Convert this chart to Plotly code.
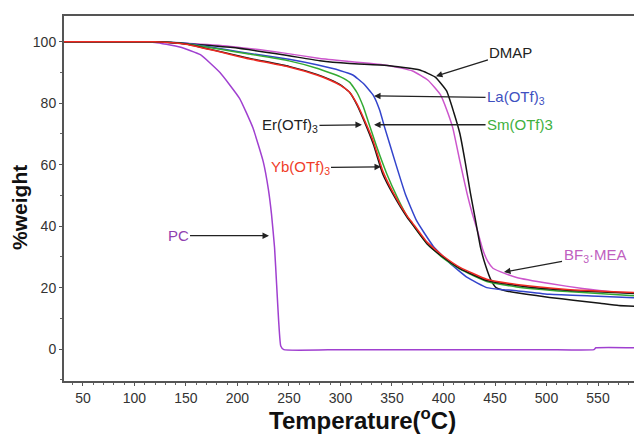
import plotly.graph_objects as go

# ---------------- data ----------------
T_pc = [31, 100, 120, 131, 145, 164, 183, 202, 215, 225, 230, 233, 236, 238, 240, 242, 245, 300, 400, 500, 546, 548, 593]
W_pc = [100, 100, 99.8, 99.2, 98.2, 95.8, 90, 81.6, 72, 61, 52, 44, 33, 21, 9, 1, -0.2, -0.2, -0.2, -0.2, -0.2, 0.4, 0.4]

T_dmap = [31, 120, 150, 193, 244, 280, 309, 345, 377, 392, 403, 410, 416, 421, 426, 431, 436, 441, 446, 451, 460, 471, 490, 503, 526, 552, 570, 593]
W_dmap = [100, 100, 99.4, 98.2, 95.8, 93.8, 92.9, 92.3, 90.8, 88.5, 84, 77, 70, 61, 51, 42, 33, 27, 22.5, 20, 19, 18.3, 17.4, 16.8, 15.9, 14.9, 14.2, 13.8]

T_bf3 = [31, 120, 150, 193, 244, 280, 309, 345, 370, 385, 397, 403, 409, 416, 423, 428, 433, 438, 443, 448, 455, 471, 503, 535, 565, 593]
W_bf3 = [100, 100, 99.5, 98.5, 96.4, 94.6, 93.6, 92.4, 90.5, 87.5, 82.8, 78, 72, 61, 50.4, 44, 38.5, 32.5, 28.5, 26.3, 25.2, 23.3, 21.3, 19.7, 18.6, 18.1]

T_la = [31, 120, 150, 212, 250, 277, 300, 312, 322, 332, 338, 343, 353, 363, 374, 390, 406, 423, 442, 455, 471, 503, 550, 593]
W_la = [100, 100, 99.5, 96.2, 94.3, 92.5, 90.6, 89.2, 86.5, 82.5, 77.8, 72, 61, 50.4, 41.7, 33.5, 28, 23.3, 20, 19.4, 19, 17.8, 17.2, 16.6]

T_sm = [31, 120, 150, 212, 250, 277, 300, 309, 316, 322, 327, 335, 345, 355, 365, 384, 400, 416, 442, 471, 520, 593]
W_sm = [100, 100, 99.4, 96, 93.8, 91.4, 88.6, 86.8, 83.5, 79, 74, 66, 57, 49.5, 43, 34.3, 29.5, 26, 22, 20.2, 18.7, 17.2]

T_er = [31, 120, 150, 212, 250, 277, 290, 300, 309, 316, 322, 332, 341, 351, 365, 370, 384, 400, 416, 442, 471, 520, 593]
W_er = [100, 100, 99.3, 94.6, 92, 89.4, 87.7, 86, 83.5, 79.5, 75, 66.6, 57, 50.4, 42.7, 40.5, 34.3, 29.8, 26.2, 22.3, 20.7, 19.1, 18]

T_yb = [31, 120, 150, 212, 250, 277, 290, 300, 309, 316, 322, 332, 341, 351, 365, 370, 384, 400, 416, 442, 471, 520, 593]
W_yb = [100, 100, 99.2, 94.4, 91.8, 89.2, 87.5, 85.8, 83.5, 79.8, 75.5, 67.5, 58, 51, 43.2, 41, 34.8, 30.2, 26.6, 22.7, 21, 19.4, 18.3]

x_ticks = [50, 100, 150, 200, 250, 300, 350, 400, 450, 500, 550]
y_ticks = [0, 20, 40, 60, 80, 100]

# label: (text, tip T, tip W, ax, ay, colour)
labels = [
    ("DMAP", 391.7, 88.7, 76, -24, "#222222"),
    ("La(OTf)<sub>3</sub>", 331.6, 82.4, 143, 2, "#4050c0"),
    ("Sm(OTf)3", 331.6, 73.0, 147, 0, "#40b040"),
    ("Er(OTf)<sub>3</sub>", 321.8, 73.0, -73, 1, "#222222"),
    ("Yb(OTf)<sub>3</sub>", 340.3, 59.3, -82, 1, "#f03c28"),
    ("PC", 231.6, 36.9, -92, 0, "#9040b0"),
    ("BF<sub>3</sub>·MEA", 457.8, 25.0, 92, -17, "#c060c0"),
]

FONT = "Arial, Liberation Sans, sans-serif"

fig = go.Figure()
series = [
    (T_pc, W_pc, "PC", "#a040d0"),
    (T_bf3, W_bf3, "BF3·MEA", "#cc55cc"),
    (T_dmap, W_dmap, "DMAP", "#151515"),
    (T_la, W_la, "La(OTf)3", "#3344cc"),
    (T_sm, W_sm, "Sm(OTf)3", "#33aa33"),
    (T_er, W_er, "Er(OTf)3", "#151515"),
    (T_yb, W_yb, "Yb(OTf)3", "#ee2a22"),
]
for tx, wy, name, col in series:
    fig.add_trace(go.Scatter(x=tx, y=wy, mode="lines", name=name,
                             line=dict(color=col, width=1.5, shape="spline", smoothing=0.4)))

for text, tx, wy, ax, ay, col in labels:
    fig.add_annotation(x=tx, y=wy, xref="x", yref="y", text=text, showarrow=True,
                       ax=ax, ay=ay, arrowhead=2, arrowsize=1, arrowwidth=1.3,
                       arrowcolor="#222222", standoff=1,
                       font=dict(family=FONT, size=15, color=col))

# page offset (body margin) compensation: figure pixel = screen pixel - 8
OFF = 8
W, H = 642, 434
ml, mt = 64 - OFF, 14 - OFF
mr = OFF
mb = H - (381 - OFF)
pw, ph = W - ml - mr, H - mt - mb

def px_to_paper(sx, sy):
    fx, fy = sx - OFF, sy - OFF
    return (fx - ml) / pw, (H - mb - fy) / ph

tx_, ty_ = px_to_paper(362, 419)
fig.add_annotation(x=tx_, y=ty_, xref="paper", yref="paper", xanchor="center", yanchor="middle",
                   text="<b>Temperature(<sup>o</sup>C)</b>",
                   showarrow=False, font=dict(family=FONT, size=24, color="#111111"))
yx_, yy_ = px_to_paper(20, 207)
fig.add_annotation(x=yx_, y=yy_, xref="paper", yref="paper", xanchor="center", yanchor="middle",
                   text="<b>%weight</b>", textangle=-90, showarrow=False,
                   font=dict(family=FONT, size=21, color="#111111"))

fig.update_layout(
    width=W, height=H, margin=dict(l=ml, r=mr, t=mt, b=mb),
    plot_bgcolor="white", paper_bgcolor="white", showlegend=False,
    font=dict(family=FONT, size=14, color="#333333"),
)
fig.update_xaxes(range=[31.6, 592.7], tickvals=x_ticks, showgrid=False, zeroline=False,
                 showline=True, linecolor="#555555", linewidth=2, mirror=True,
                 ticks="outside", ticklen=3, tickcolor="#555555", tickwidth=1,
                 minor=dict(dtick=10, tick0=0, ticks="outside", ticklen=2, tickcolor="#666666"),
                 tickfont=dict(family=FONT, size=14, color="#333333"))
fig.update_yaxes(range=[-10.4, 108.4], tickvals=y_ticks, showgrid=False, zeroline=False,
                 showline=True, linecolor="#555555", linewidth=2,
                 ticks="outside", ticklen=3, tickcolor="#555555", tickwidth=1,
                 minor=dict(dtick=10, tick0=0, ticks="outside", ticklen=2, tickcolor="#666666"),
                 tickfont=dict(family=FONT, size=14, color="#333333"))

fig.write_html("out.html")
